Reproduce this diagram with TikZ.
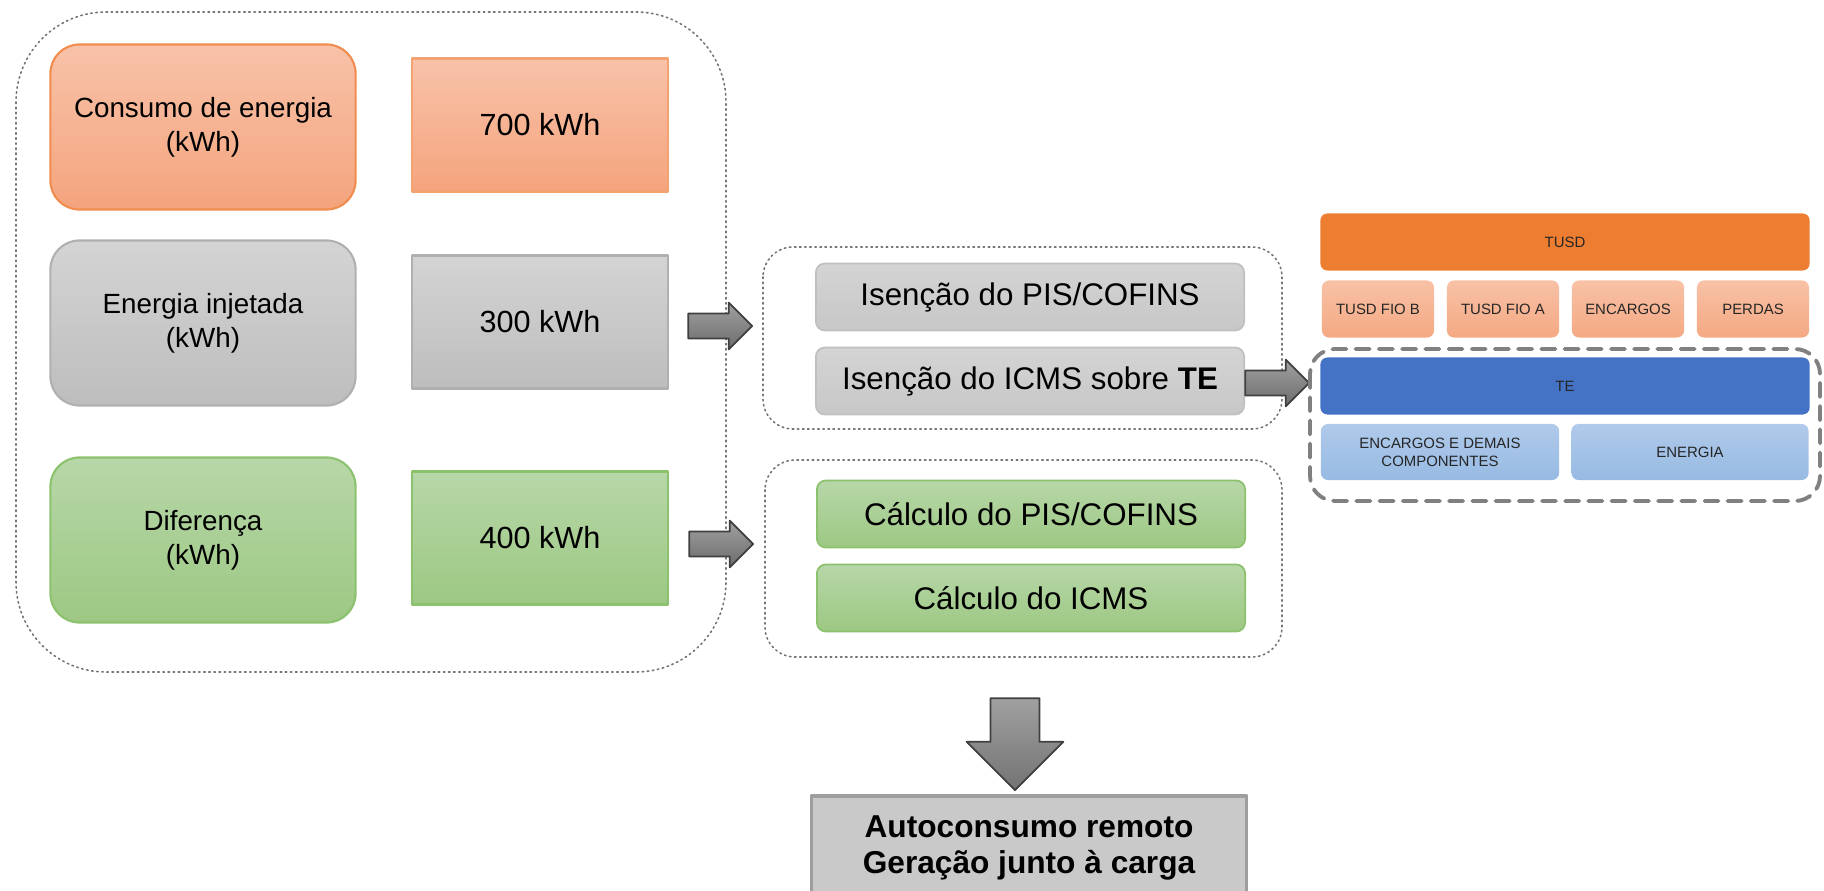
\documentclass[tikz,border=0pt]{standalone}
\usepackage{fontspec}
\setmainfont{Liberation Sans}
\usetikzlibrary{shapes.arrows}

\definecolor{laranjaA}{HTML}{F8C2A9}
\definecolor{laranjaB}{HTML}{F4A47D}
\definecolor{laranjaBorda}{HTML}{F08C4E}
\definecolor{cinzaA}{HTML}{D4D4D4}
\definecolor{cinzaB}{HTML}{BDBDBD}
\definecolor{cinzaBorda}{HTML}{B0B0B0}
\definecolor{verdeA}{HTML}{B7D7A8}
\definecolor{verdeB}{HTML}{9DC883}
\definecolor{verdeBorda}{HTML}{8CC26E}
\definecolor{setaA}{HTML}{A0A0A0}
\definecolor{setaB}{HTML}{6C6C6C}
\definecolor{tusd}{HTML}{ED7D31}
\definecolor{tusdA}{HTML}{F8C1A6}
\definecolor{tusdB}{HTML}{F4A983}
\definecolor{te}{HTML}{4472C4}
\definecolor{teA}{HTML}{B0CAEA}
\definecolor{teB}{HTML}{97BAE3}
\definecolor{resultado}{HTML}{C9C9C9}

\begin{document}
\begin{tikzpicture}[line cap=round,line join=round,x=0.01cm,y=-0.01cm,
		rotulo/.style={rounded corners=0.29cm,line width=0.6pt,minimum width=3.05cm,minimum height=1.65cm,align=center,text=black,font=\fontsize{7.9}{9.7}\selectfont},
		valor/.style={line width=0.6pt,minimum width=2.56cm,minimum height=1.33cm,text=black,font=\fontsize{8.7}{10}\selectfont},
		item/.style={rounded corners=0.09cm,line width=0.5pt,minimum width=4.28cm,minimum height=0.67cm,text=black,font=\fontsize{8.9}{10}\selectfont},
		tarifa/.style={rounded corners=0.07cm,minimum height=0.57cm,align=center,text=black!85,font=\fontsize{4.25}{5.2}\selectfont},
		moldura/.style={draw=black!55,line width=0.45pt,densely dotted},
		seta/.style={single arrow,draw=black!75,line width=0.5pt,top color=setaA,bottom color=setaB,inner sep=0.115cm,single arrow head extend=0.11cm,minimum height=0.64cm}]
		\useasboundingbox (0,0) rectangle (1824,891);
		\clip (0,0) rectangle (1824,891);
		%%%%%%%%%%%%%%%%%%%%% E N E R G I A %%%%%%%%%%%%%%%%%%%%%
		\draw [moldura,rounded corners=0.9cm] (16,12) rectangle (726,672);
		\node[rotulo,draw=laranjaBorda,top color=laranjaA,bottom color=laranjaB] (consumo) at (203,127) {Consumo de energia\\(kWh)};
		\node[valor,draw=laranjaBorda!80,top color=laranjaA,bottom color=laranjaB] (v700) at (540,125) {700 kWh};
		\node[rotulo,draw=cinzaBorda,top color=cinzaA,bottom color=cinzaB] (injetada) at (203,323) {Energia injetada\\(kWh)};
		\node[valor,draw=cinzaBorda,top color=cinzaA,bottom color=cinzaB] (v300) at (540,322) {300 kWh};
		\node[rotulo,draw=verdeBorda,top color=verdeA,bottom color=verdeB] (diferenca) at (203,540) {Diferença\\(kWh)};
		\node[valor,draw=verdeBorda,top color=verdeA,bottom color=verdeB] (v400) at (540,538) {400 kWh};
		
		%%%% SETAS
		\node[seta] (seta1) at (714,326) {};
		\node[seta] (seta2) at (715,544) {};
		
		%%%% ISENCAO
		\draw [moldura,rounded corners=0.3cm] (763,247) rectangle (1282,429);
		\node[item,draw=cinzaBorda!80,top color=cinzaA,bottom color=cinzaB!85] (isencaoPis) at (1030,297) {Isenção do PIS/COFINS};
		\node[item,draw=cinzaBorda!80,top color=cinzaA,bottom color=cinzaB!85] (isencaoIcms) at (1030,381) {Isenção do ICMS sobre \textbf{TE}};
		\node[seta] (seta3) at (1271,383) {};
		
		%%%% CALCULO
		\draw [moldura,rounded corners=0.3cm] (765,460) rectangle (1282,657);
		\node[item,draw=verdeBorda,top color=verdeA,bottom color=verdeB] (calculoPis) at (1031,514) {Cálculo do PIS/COFINS};
		\node[item,draw=verdeBorda,top color=verdeA,bottom color=verdeB] (calculoIcms) at (1031,598) {Cálculo do ICMS};
		
		%%%% RESULTADO
		\node[seta,shape border rotate=270,top color=setaA,bottom color=setaB!95,inner sep=0.235cm,single arrow head extend=0.24cm,minimum height=0.92cm] (seta4) at (1015,732) {};
		\node[draw=black!38,line width=1pt,fill=resultado,minimum width=4.35cm,minimum height=1.04cm,align=center,text=black,font=\bfseries\fontsize{9}{10.3}\selectfont] (resultado) at (1029,848) {Autoconsumo remoto\\Geração junto à carga};
		
		%%%%%%%%%%%%%%%%%%%%% T A R I F A %%%%%%%%%%%%%%%%%%%%%
		\node[tarifa,fill=tusd,minimum width=4.89cm] (tusd) at (1565,242) {TUSD};
		\node[tarifa,top color=tusdA,bottom color=tusdB,minimum width=1.12cm] (fioB) at (1378,309) {TUSD FIO B};
		\node[tarifa,top color=tusdA,bottom color=tusdB,minimum width=1.12cm] (fioA) at (1503,309) {TUSD FIO A};
		\node[tarifa,top color=tusdA,bottom color=tusdB,minimum width=1.12cm] (encargos) at (1628,309) {ENCARGOS};
		\node[tarifa,top color=tusdA,bottom color=tusdB,minimum width=1.12cm] (perdas) at (1753,309) {PERDAS};
		%TE
		\draw [draw=black!50,line width=1.1pt,dash pattern=on 4pt off 2.6pt,rounded corners=0.25cm] (1310,349) rectangle (1820,501);
		\node[tarifa,fill=te,minimum width=4.89cm] (te) at (1565,386) {TE};
		\node[tarifa,top color=teA,bottom color=teB,minimum width=2.38cm,minimum height=0.56cm] (demais) at (1440,452) {ENCARGOS E DEMAIS\\COMPONENTES};
		\node[tarifa,top color=teA,bottom color=teB,minimum width=2.37cm,minimum height=0.56cm] (energia) at (1690,452) {ENERGIA};
	\end{tikzpicture}
\end{document}
